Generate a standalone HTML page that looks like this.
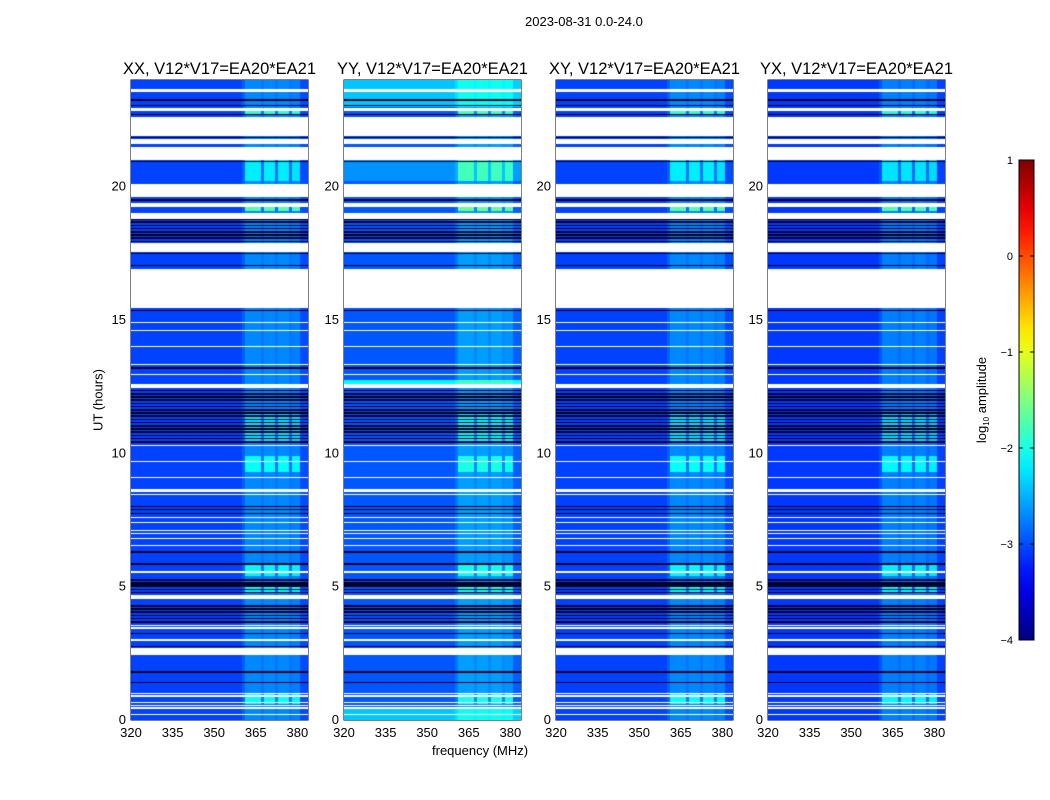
<!DOCTYPE html>
<html><head><meta charset="utf-8">
<style>
body{margin:0;background:#fff;width:1050px;height:800px;overflow:hidden;position:relative;font-family:"Liberation Sans",sans-serif;color:#000}
.abs{position:absolute}
canvas{position:absolute}
.t{position:absolute;font-size:13px;white-space:nowrap}
</style></head><body>
<div class="t" style="left:525px;top:14px">2023-08-31 0.0-24.0</div>
<div class="t" style="left:98px;top:400px;transform:translate(-50%,-50%) rotate(-90deg)">UT (hours)</div>
<div class="t" style="left:432px;top:743px">frequency (MHz)</div>
<svg id="ov" class="abs" style="left:0;top:0" width="1050" height="800"></svg>
<script>
// ---- data ----
const panelNames = ["XX, V12*V17=EA20*EA21","YY, V12*V17=EA20*EA21","XY, V12*V17=EA20*EA21","YX, V12*V17=EA20*EA21"];
const panelBase = [-3.05,-2.95,-3.05,-3.1];
const flagged = [[23.55,23.65],[22.85,22.95],[21.9,22.6],[21.6,21.8],[21.0,21.5],[19.6,20.1],[19.25,19.4],[18.8,19.0],[17.55,17.9],[15.45,16.9],[14.87,14.93],[14.57,14.63],[13.97,14.03],[13.3,13.36],[12.92,12.98],[12.45,12.6],[10.27,10.33],[9.67,9.73],[9.07,9.13],[8.55,8.68],[8.42,8.48],[7.57,7.63],[7.37,7.43],[7.07,7.13],[6.97,7.03],[6.77,6.83],[6.52,6.58],[5.52,5.58],[4.55,4.7],[3.52,3.58],[3.42,3.48],[2.97,3.03],[2.45,2.7],[0.97,1.03],[0.87,0.93],[0.62,0.68],[0.52,0.58],[0.42,0.48],[0.17,0.23]];
const darkLines = [23.25,23.05,22.7,21.85,20.95,19.5,17.95,17.5,17.05,15.35,13.2,8.0,7.9,7.75,6.3,5.85,5.1,3.25,2.75,1.8,1.4];
const stripeZones = [[17.8,18.8],[10.4,12.4],[4.75,5.35],[3.65,4.4]];
const bursts = [[22.7,22.85,0.8],[20.2,21.0,0.5],[19.1,19.25,1.0],[10.4,11.5,0.45],[9.3,9.9,0.6],[5.4,5.8,0.55],[4.8,5.0,0.6],[0.6,1.0,0.6]];
const yyZones = [[23.0,24,0.55],[20.2,21,0.3],[12.6,12.75,0.8],[0,0.45,0.55]];
// channel excess for 320..383 MHz (1 MHz channels)
const chanProfile = [0,0,0,0,0,0,0,0,0,0, 0,0,0,0,0,0,0,0,0,0, 0,0,0,0,0,0,0,0,0,0, 0,0,0,0,0,0,0,0,0,0,
  0.15,0.35,0.35,0.35,0.35,0.35,0.35,0.25,0.35,0.35, 0.35,0.35,0.25,0.35,0.35,0.35,0.35,0.25,0.3,0.3, 0.3,0.05,0.05,0.05];
const xTicks = [320,335,350,365,380];
const yTicks = [0,5,10,15,20];
const cbTicks = [1,0,-1,-2,-3,-4];

// ---- geometry ----
const panelX = [131,344,556,768], PW=177, PT=80, PB=720, PXM=2.773;
const hToY = h => PB - h*(PB-PT)/24;
const fToX = f => (f-320)*PXM;
function jet(v){
  let t=Math.max(0,Math.min(1,(v+4)/5));
  const r=Math.max(0,Math.min(1,1.5-Math.abs(4*t-3)));
  const g=Math.max(0,Math.min(1,1.5-Math.abs(4*t-2)));
  const b=Math.max(0,Math.min(1,1.5-Math.abs(4*t-1)));
  return [r*255|0,g*255|0,b*255|0];
}
function inZ(h,arr){for(const z of arr){if(h>=z[0]&&h<z[1])return z;}return null;}
const ns="http://www.w3.org/2000/svg";
const ov=document.getElementById('ov');
function sv(tag,at,txt){const e=document.createElementNS(ns,tag);for(const k in at)e.setAttribute(k,at[k]);if(txt!=null)e.textContent=txt;ov.appendChild(e);return e;}

panelX.forEach((px,p)=>{
  const c=document.createElement('canvas');
  c.width=PW;c.height=PB-PT;c.style.left=px+'px';c.style.top=PT+'px';
  
  
  document.body.appendChild(c);
  const ctx=c.getContext('2d');const img=ctx.createImageData(PW,PB-PT);
  for(let y=0;y<PB-PT;y++){
    const h=(PB-PT-y-0.5)*24/(PB-PT);
    let flag=!!inZ(h,flagged);
    let dark=darkLines.some(d=>Math.abs(h-d)<0.025);
    const sz=inZ(h,stripeZones);
    if(sz && Math.floor((h-sz[0])/0.06)%2===0) dark=true;
    const b=inZ(h,bursts);
    let boost=0;
    if(p===1){const z=inZ(h,yyZones);if(z)boost=z[2];}
    for(let x=0;x<PW;x++){
      const f=320+(x+0.5)/PXM;
      const ci=Math.min(chanProfile.length-1,Math.floor(f-320));
      const cp=chanProfile[ci];
      let col;
      if(flag) col=[255,255,255];
      else if(dark) col=[0,0,40];
      else{
        let v=panelBase[p]+boost+cp;
        if(b&&cp>=0.3) v+=b[2];
        col=jet(v);
      }
      const i=(y*PW+x)*4;img.data[i]=col[0];img.data[i+1]=col[1];img.data[i+2]=col[2];img.data[i+3]=255;
    }
  }
  ctx.putImageData(img,0,0);
  let r=sv('rect',{x:px,y:PT,width:PW,height:PB-PT,fill:'none',stroke:'#000','stroke-width':1});
  
  let tt=sv('text',{x:px+PW/2,y:74,'text-anchor':'middle','font-size':16.5,'font-family':'Liberation Sans, sans-serif'},panelNames[p]);
  
  xTicks.forEach(f=>{const x=px+fToX(f);
    sv('line',{x1:x,x2:x,y1:PB,y2:PB-4,stroke:'#000'});sv('line',{x1:x,x2:x,y1:PT,y2:PT+4,stroke:'#000'});
    let l=sv('text',{x:x,y:737,'text-anchor':'middle','font-size':13,'font-family':'Liberation Sans, sans-serif'},String(f));
    });
  yTicks.forEach(h=>{const y=hToY(h);
    sv('line',{x1:px,x2:px+4,y1:y,y2:y,stroke:'#000'});sv('line',{x1:px+PW,x2:px+PW-4,y1:y,y2:y,stroke:'#000'});
    let l=sv('text',{x:px-5,y:y+4,'text-anchor':'end','font-size':13,'font-family':'Liberation Sans, sans-serif'},String(h));
    });
});
// colorbar
const CX=1019,CW=15,CT=160,CB=640;
const defs=sv('defs',{});
const lg=document.createElementNS(ns,'linearGradient');lg.setAttribute('id','jg');lg.setAttribute('x1','0');lg.setAttribute('y1','1');lg.setAttribute('x2','0');lg.setAttribute('y2','0');defs.appendChild(lg);
for(let i=0;i<=20;i++){const v=-4+5*i/20;const c=jet(v);const s=document.createElementNS(ns,'stop');s.setAttribute('offset',(i/20));s.setAttribute('stop-color','rgb('+c.join(',')+')');lg.appendChild(s);}
let cb=sv('rect',{x:CX,y:CT,width:CW,height:CB-CT,fill:'url(#jg)',stroke:'#000'});

cbTicks.forEach(v=>{const y=CB-(v+4)/5*(CB-CT);
  sv('line',{x1:CX,x2:CX+4,y1:y,y2:y,stroke:'#000'});sv('line',{x1:CX+CW,x2:CX+CW-4,y1:y,y2:y,stroke:'#000'});
  let l=sv('text',{x:1013,y:y+4,'text-anchor':'end','font-size':11,'font-family':'Liberation Sans, sans-serif'},v<0?'\u2212'+(-v):String(v));
  });
let cl=sv('text',{x:0,y:0,'text-anchor':'middle','font-size':13,'font-family':'Liberation Sans, sans-serif',transform:'translate(986,400) rotate(-90)'});

cl.innerHTML='log<tspan font-size="8" dy="3">10</tspan><tspan dy="-3"> amplitude</tspan>';
</script>
</body></html>
